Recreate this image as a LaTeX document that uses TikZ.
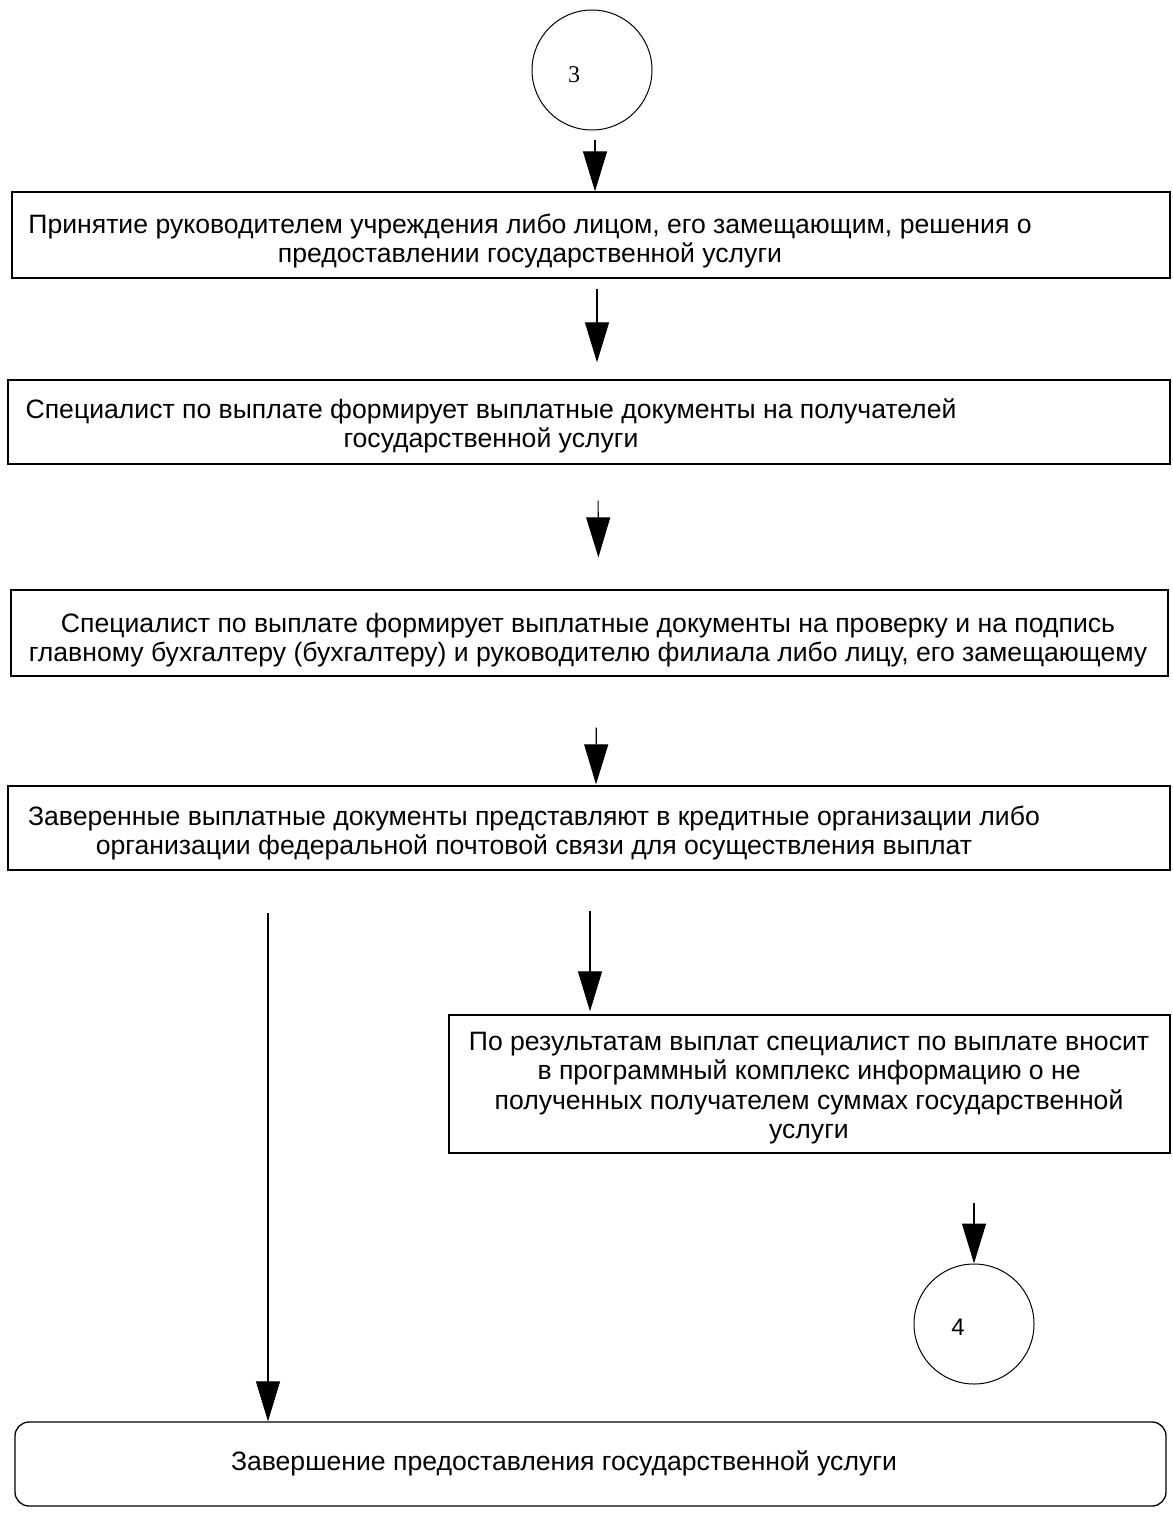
\documentclass[tikz,border=0pt]{standalone}
\usepackage{fontspec}
\setmainfont{Liberation Sans}
\newfontfamily\serifnum{Liberation Serif}
\usetikzlibrary{arrows.meta}
\begin{document}
\begin{tikzpicture}[x=1pt,y=-1pt,
  box/.style={draw, line width=1.3pt, inner sep=0pt},
  txt/.style={font=\fontsize{26.6}{29.5}\selectfont, align=center, inner sep=0pt},
  conn/.style={line width=1.1pt, -{Triangle[length=40pt,width=24pt]}},
  circ/.style={draw, circle, line width=1pt, minimum size=120pt, inner sep=0pt}]
\useasboundingbox (0,0) rectangle (1172,1522);
\fill[white] (0,0) rectangle (1172,1522);
% connector circle 3
\node[circ] (c3) at (592,70) {};
\node[font=\serifnum\fontsize{24}{28}\selectfont, inner sep=0pt] (c3t) at (574,75) {3};
% boxes
\node[box, minimum width=1158pt, minimum height=86pt] (b1) at (591,235) {};
\node[txt] (t1) at (530,241) {Принятие руководителем учреждения либо лицом, его замещающим, решения о\\предоставлении государственной услуги};
\node[box, minimum width=1162pt, minimum height=84pt] (b2) at (589,422) {};
\node[txt] (t2) at (491,426) {Специалист по выплате формирует выплатные документы на получателей\\государственной услуги};
\node[box, minimum width=1157pt, minimum height=86pt] (b3) at (589.5,633) {};
\node[txt] (t3) at (588,640) {Специалист по выплате формирует выплатные документы на проверку и на подпись\\главному бухгалтеру (бухгалтеру) и руководителю филиала либо лицу, его замещающему};
\node[box, minimum width=1162pt, minimum height=84pt] (b4) at (589,828) {};
\node[txt] (t4) at (534,833) {Заверенные выплатные документы представляют в кредитные организации либо\\организации федеральной почтовой связи для осуществления выплат};
\node[box, minimum width=721pt, minimum height=138pt] (b5) at (809.5,1084) {};
\node[txt] (t5) at (809,1088) {По результатам выплат специалист по выплате вносит\\в программный комплекс информацию о не\\полученных получателем суммах государственной\\услуги};
\node[circ] (c4) at (974,1324) {};
\node[font=\fontsize{24}{28}\selectfont, inner sep=0pt] (c4t) at (958,1327) {4};
\node[box, rounded corners=14pt, minimum width=1151pt, minimum height=84pt] (fin) at (590.5,1464) {};
\node[txt] (t6) at (564,1463) {Завершение предоставления государственной услуги};
% connectors
\draw[conn, shorten <=10pt] ([xshift=3pt]c3.south) -- ([xshift=4pt]b1.north);
\draw[conn, shorten <=10pt, shorten >=17pt] ([xshift=6pt]b1.south) -- ([xshift=8pt]b2.north);
\draw[conn, shorten <=36pt, shorten >=32pt] ([xshift=9pt]b2.south) -- ([xshift=9pt]b3.north);
\draw[conn, shorten <=51pt, shorten >=1pt] ([xshift=7pt]b3.south) -- ([xshift=7pt]b4.north);
\draw[conn, shorten <=40pt, shorten >=3pt] ([xshift=1pt]b4.south) -- ([xshift=1pt]b4.south |- b5.north);
\coordinate (l0) at (268,913);
\draw[conn] (l0) -- (l0 |- fin.north);
\draw[conn, shorten <=49pt] (c4.north |- b5.south) -- (c4.north);
\end{tikzpicture}
\end{document}
